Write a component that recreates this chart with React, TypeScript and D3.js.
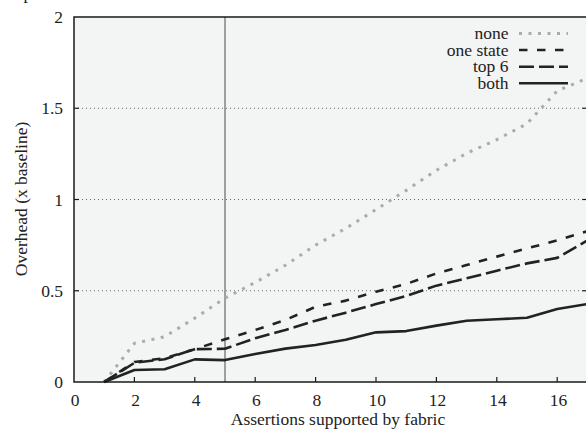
import React from "react";
import * as d3 from "d3";

const xs = [1, 2, 3, 4, 5, 6, 7, 8, 9, 10, 11, 12, 13, 14, 15, 16, 17];
const noneVals = [0, 0.212, 0.248, 0.35, 0.46, 0.545, 0.64, 0.75, 0.842, 0.945, 1.05, 1.16, 1.253, 1.328, 1.415, 1.595, 1.665];
const oneStateVals = [0, 0.11, 0.13, 0.18, 0.234, 0.285, 0.34, 0.412, 0.446, 0.495, 0.537, 0.595, 0.641, 0.687, 0.732, 0.776, 0.826];
const top6Vals = [0, 0.105, 0.125, 0.18, 0.182, 0.24, 0.285, 0.336, 0.38, 0.427, 0.471, 0.528, 0.568, 0.61, 0.65, 0.68, 0.775];
const bothVals = [0, 0.066, 0.07, 0.124, 0.12, 0.153, 0.183, 0.203, 0.232, 0.272, 0.279, 0.309, 0.336, 0.344, 0.352, 0.4, 0.427];

const seriesNames = ["none", "one state", "top 6", "both"];
const xTicks = [0, 2, 4, 6, 8, 10, 12, 14, 16];
const yTicks = [0, 0.5, 1, 1.5, 2];
const yGrid = [0.5, 1, 1.5];
const markerX = 5;

const W = 586;
const H = 435;
const left = 74;
const right = 587.4;
const top = 17;
const bottom = 382;

const FONT = '"Liberation Serif", "Times New Roman", Times, serif';
const FS = 17.5;

export default function App() {
  const x = d3.scaleLinear().domain([0, 17]).range([left, right]);
  const y = d3.scaleLinear().domain([0, 2]).range([bottom, top]);
  const line = d3
    .line<number>()
    .x((_, i) => x(xs[i]))
    .y((d) => y(d));

  const series = [
    { name: seriesNames[0], vals: noneVals, stroke: "#ababab", width: 3, dash: "3,6.5" },
    { name: seriesNames[1], vals: oneStateVals, stroke: "#222", width: 2.6, dash: "8.5,9.5" },
    { name: seriesNames[2], vals: top6Vals, stroke: "#222", width: 2.6, dash: "15,5" },
    { name: seriesNames[3], vals: bothVals, stroke: "#222", width: 2.6, dash: undefined },
  ];

  const legendY = [33.5, 50, 66.7, 83.3];
  const txt = { fontFamily: FONT };

  return (
    <svg
      width={W}
      height={H}
      style={{ position: "fixed", left: 0, top: 0, background: "#fff", fontFamily: FONT }}
    >
      <text x={23.5} y={-1} fontSize={FS} fill="#222" style={txt}>p</text>
      <rect x={left} y={top} width={right - left} height={bottom - top} fill="#f3f4f4" />
      {yGrid.map((v) => (
        <line
          key={v}
          x1={left}
          x2={right}
          y1={y(v)}
          y2={y(v)}
          stroke="#666"
          strokeWidth={1}
          strokeDasharray="1,3"
        />
      ))}
      <line x1={x(markerX)} x2={x(markerX)} y1={top} y2={bottom} stroke="#8a8a8a" strokeWidth={1.6} />
      {series.map((s) => (
        <path
          key={s.name}
          d={line(s.vals) || ""}
          fill="none"
          stroke={s.stroke}
          strokeWidth={s.width}
          strokeDasharray={s.dash}
          strokeLinejoin="round"
        />
      ))}
      <rect x={left} y={top} width={right - left} height={bottom - top} fill="none" stroke="#1a1a1a" strokeWidth={1.5} />
      {xTicks.map((t) => (
        <g key={t}>
          {t > 0 && <line x1={x(t)} x2={x(t)} y1={bottom} y2={bottom - 5} stroke="#1a1a1a" strokeWidth={1.2} />}
          <text x={x(t) + 1.2} y={406} fontSize={FS} textAnchor="middle" fill="#222" style={txt}>
            {t}
          </text>
        </g>
      ))}
      {yTicks.map((t) => (
        <g key={t}>
          {t > 0 && t < 2 && (
            <>
              <line x1={left} x2={left + 5} y1={y(t)} y2={y(t)} stroke="#1a1a1a" strokeWidth={1.2} />
              <line x1={right} x2={right - 5} y1={y(t)} y2={y(t)} stroke="#1a1a1a" strokeWidth={1.2} />
            </>
          )}
          <text x={63} y={y(t) + 6} fontSize={FS} textAnchor="end" fill="#222" style={txt}>
            {t}
          </text>
        </g>
      ))}
      <text x={338} y={424.5} fontSize={FS} textAnchor="middle" fill="#222" style={txt}>
        Assertions supported by fabric
      </text>
      <text
        transform={`translate(26.5,199) rotate(-90)`}
        fontSize={FS}
        textAnchor="middle"
        fill="#222"
        style={txt}
      >
        Overhead (x baseline)
      </text>
      {series.map((s, i) => (
        <g key={s.name}>
          <text x={508.5} y={legendY[i] + 5.5} fontSize={FS} textAnchor="end" fill="#222" style={txt}>
            {s.name}
          </text>
          <line
            x1={519}
            x2={568}
            y1={legendY[i]}
            y2={legendY[i]}
            stroke={s.stroke}
            strokeWidth={s.width}
            strokeDasharray={s.dash}
          />
        </g>
      ))}
    </svg>
  );
}
